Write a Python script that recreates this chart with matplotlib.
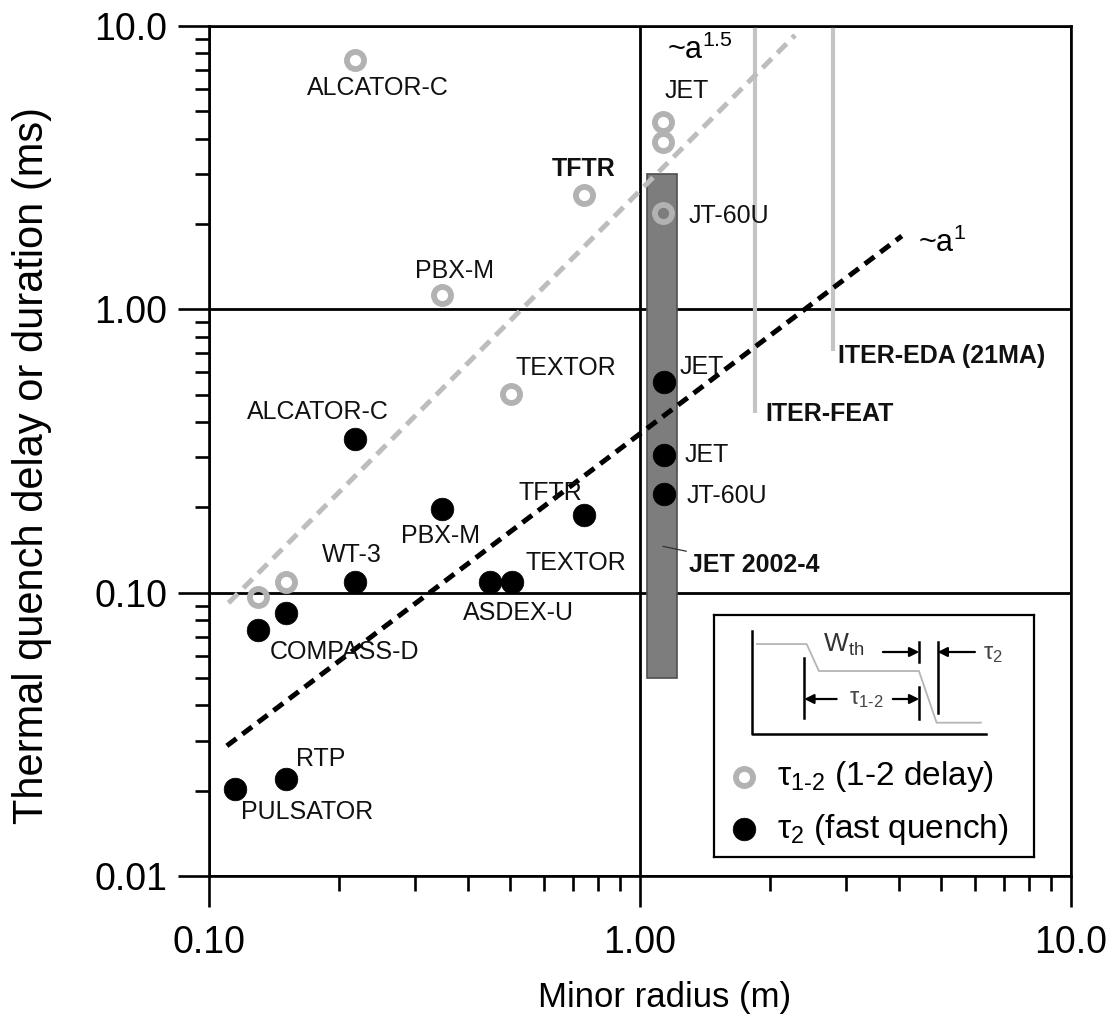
import matplotlib
matplotlib.use("Agg")
import matplotlib.pyplot as plt
from matplotlib.patches import Rectangle
from matplotlib.ticker import FixedLocator, FixedFormatter, NullFormatter

plt.rcParams["font.family"] = ["Liberation Sans", "DejaVu Sans"]
plt.rcParams["mathtext.fontset"] = "custom"
plt.rcParams["mathtext.rm"] = "Liberation Sans"
plt.rcParams["mathtext.it"] = "Liberation Sans:italic"
plt.rcParams["mathtext.bf"] = "Liberation Sans:bold"
plt.rcParams["mathtext.default"] = "regular"

# ---- data -------------------------------------------------------------
# tau_1-2 : delay between phase 1 and phase 2 of the thermal quench
delay_radius = [0.218, 0.741, 0.348, 1.13, 1.13, 1.13, 0.502, 0.151, 0.130]
delay_ms = [7.6, 2.53, 1.12, 4.57, 3.90, 2.19, 0.503, 0.109, 0.0964]

# tau_2 : duration of the fast thermal quench
quench_radius = [0.218, 0.348, 0.741, 0.218, 0.449, 0.504, 0.151, 0.130,
                 0.151, 0.115, 1.137, 1.137, 1.137]
quench_ms = [0.348, 0.198, 0.1875, 0.109, 0.109, 0.109, 0.0849, 0.0737,
             0.0220, 0.0202, 0.553, 0.306, 0.2225]

# scaling lines (end points)
fit15_radius = [0.111, 2.29]
fit15_ms = [0.092, 9.28]
fit1_radius = [0.110, 4.05]
fit1_ms = [0.0288, 1.815]

# JET 2002-4 range of fast quench durations
jet_radius_range = [1.04, 1.22]
jet_ms_range = [0.05, 3.0]

# ITER minor radii and lower end of the marker lines
iter_radius = [1.85, 2.8]
iter_ms_low = [0.43, 0.715]
iter_names = ["ITER-FEAT", "ITER-EDA (21MA)"]

x_ticks = [0.1, 1.0, 10.0]
x_tick_labels = ["0.10", "1.00", "10.0"]
y_ticks = [0.01, 0.1, 1.0, 10.0]
y_tick_labels = ["0.01", "0.10", "1.00", "10.0"]
x_minor = [0.2, 0.3, 0.4, 0.5, 0.6, 0.7, 0.8, 0.9, 2, 3, 4, 5, 6, 7, 8, 9]
y_minor = [0.02, 0.03, 0.04, 0.05, 0.06, 0.07, 0.08, 0.09,
           0.2, 0.3, 0.4, 0.5, 0.6, 0.7, 0.8, 0.9,
           2, 3, 4, 5, 6, 7, 8, 9]

# ---- styles -----------------------------------------------------------
GREY_MARK = "#b2b2b2"
GREY_LINE = "#bdbdbd"
ITER_GREY = "#c4c4c4"
BAR_GREY = "#7d7d7d"

fig = plt.figure(figsize=(11.09, 10.27), dpi=100)
ax = fig.add_axes([0.18846, 0.14703, 0.77727, 0.82765])
ax.set_xscale("log")
ax.set_yscale("log")
ax.set_xlim(0.1, 10.0)
ax.set_ylim(0.01, 10.0)

for s in ax.spines.values():
    s.set_linewidth(1.9)
    s.set_color("black")

ax.xaxis.set_major_locator(FixedLocator(x_ticks))
ax.xaxis.set_major_formatter(FixedFormatter(x_tick_labels))
ax.xaxis.set_minor_locator(FixedLocator(x_minor))
ax.xaxis.set_minor_formatter(NullFormatter())
ax.yaxis.set_major_locator(FixedLocator(y_ticks))
ax.yaxis.set_major_formatter(FixedFormatter(y_tick_labels))
ax.yaxis.set_minor_locator(FixedLocator(y_minor))
ax.yaxis.set_minor_formatter(NullFormatter())

ax.tick_params(axis="both", which="both", direction="out", width=1.9,
               top=False, right=False)
ax.tick_params(axis="x", which="major", length=22, pad=13, labelsize=27)
ax.tick_params(axis="x", which="minor", length=11)
ax.tick_params(axis="y", which="major", length=22, pad=8, labelsize=27)
ax.tick_params(axis="y", which="minor", length=10)

ax.grid(True, which="major", color="black", linewidth=2.0)
ax.set_axisbelow(True)

ax.set_xlabel("Minor radius (m)", fontsize=25)
ax.xaxis.set_label_coords(0.529, -0.124)
ax.set_ylabel("Thermal quench delay or duration (ms)", fontsize=30)
ax.yaxis.set_label_coords(-0.182, 0.483)

# JET 2002-4 band
ax.add_patch(Rectangle((jet_radius_range[0], jet_ms_range[0]),
                       jet_radius_range[1] - jet_radius_range[0],
                       jet_ms_range[1] - jet_ms_range[0],
                       facecolor=BAR_GREY, edgecolor="#4f4f4f",
                       linewidth=1.2, zorder=2))

# ITER minor radius markers
for r, lo in zip(iter_radius, iter_ms_low):
    ax.plot([r, r], [lo, 10.0], color=ITER_GREY, linewidth=3.0,
            solid_capstyle="butt", zorder=2.5)

# scaling lines
ax.plot(fit15_radius, fit15_ms, color=GREY_LINE, linewidth=3.6,
        dashes=(2.6, 1.6), zorder=3)
ax.plot(fit1_radius, fit1_ms, color="black", linewidth=3.6,
        dashes=(2.4, 1.5), zorder=3)

# data points
ax.plot(delay_radius, delay_ms, linestyle="none", marker="o",
        markerfacecolor="none", markeredgecolor=GREY_MARK,
        markersize=12.3, markeredgewidth=4.2, zorder=4)
ax.plot(quench_radius, quench_ms, linestyle="none", marker="o",
        markerfacecolor="black", markeredgecolor="black",
        markersize=16.3, markeredgewidth=0.5, zorder=4)

# device labels
FS = 18
def label(x, y, s, ha="center", weight="normal"):
    ax.text(x, y, s, ha=ha, va="center", fontsize=FS, fontweight=weight,
            color="#111111", zorder=5)

label(0.2467, 6.03, "ALCATOR-C")
label(0.741, 3.14, "TFTR", weight="bold")
label(0.372, 1.368, "PBX-M")
label(1.143, 5.88, "JET", ha="left")
label(1.293, 2.14, "JT-60U", ha="left")
label(0.673, 0.621, "TEXTOR")
label(0.179, 0.434, "ALCATOR-C")
label(0.618, 0.2244, "TFTR")
label(0.3436, 0.158, "PBX-M")
label(0.2147, 0.1354, "WT-3")
label(0.710, 0.1269, "TEXTOR")
label(0.521, 0.0851, "ASDEX-U")
label(0.2057, 0.0619, "COMPASS-D")
label(0.1819, 0.0259, "RTP")
label(0.1688, 0.01683, "PULSATOR")
label(1.238, 0.626, "JET", ha="left")
label(1.272, 0.3056, "JET", ha="left")
label(1.285, 0.219, "JT-60U", ha="left")
label(1.95, 0.427, iter_names[0], ha="left", weight="bold")
label(2.88, 0.685, iter_names[1], ha="left", weight="bold")

ax.annotate("JET 2002-4", xy=(1.13, 0.1457), xytext=(1.30, 0.1248),
            ha="left", va="center", fontsize=FS, fontweight="bold",
            color="#111111", zorder=5,
            arrowprops=dict(arrowstyle="-", color="#333333", linewidth=0.9,
                            shrinkA=0, shrinkB=0))

ax.text(1.155, 8.21, "~a$^{1.5}$", ha="left", va="center", fontsize=22,
        zorder=5)
ax.text(4.42, 1.705, "~a$^{1}$", ha="left", va="center", fontsize=22,
        zorder=5)

# ---- legend box with the quench schematic ------------------------------
ins = ax.inset_axes([0.5858, 0.02235, 0.3712, 0.2847], zorder=6)
ins.set_xlim(0, 1)
ins.set_ylim(0, 1)
ins.set_xticks([])
ins.set_yticks([])
ins.set_facecolor("white")
for s in ins.spines.values():
    s.set_linewidth(1.6)

# schematic axes
ins.plot([0.1178, 0.1178, 0.849], [0.934, 0.508, 0.508], color="black",
         linewidth=1.8)
# stored energy trace
ins.plot([0.134, 0.2897, 0.328, 0.6406, 0.6959, 0.834],
         [0.880, 0.880, 0.7686, 0.7686, 0.555, 0.555],
         color="#b5b5b5", linewidth=1.3)
# phase markers
ins.plot([0.2822, 0.2822], [0.8223, 0.5744], color="black", linewidth=1.8)
ins.plot([0.6416, 0.6416], [0.8897, 0.8058], color="black", linewidth=1.8)
ins.plot([0.6416, 0.6416], [0.7025, 0.5702], color="black", linewidth=1.8)
ins.plot([0.699, 0.699], [0.8897, 0.595], color="black", linewidth=1.8)

arrow = dict(arrowstyle="-|>", color="black", linewidth=1.6,
             mutation_scale=14, shrinkA=0, shrinkB=0)
ins.annotate("", xy=(0.6416, 0.8471), xytext=(0.528, 0.8471),
             arrowprops=arrow)
ins.annotate("", xy=(0.699, 0.8471), xytext=(0.8156, 0.8471),
             arrowprops=arrow)
ins.annotate("", xy=(0.2822, 0.6529), xytext=(0.3834, 0.6529),
             arrowprops=arrow)
ins.annotate("", xy=(0.6416, 0.6529), xytext=(0.559, 0.6529),
             arrowprops=arrow)

ins.text(0.3406, 0.876, "W$_{th}$", ha="left", va="center", fontsize=19,
         color="#333333")
ins.text(0.8406, 0.839, "τ$_{2}$", ha="left", va="center", fontsize=17,
         color="#444444")
ins.text(0.477, 0.653, "τ$_{1\\text{-}2}$", ha="center", va="center",
         fontsize=17, color="#444444")

ins.plot([0.09375], [0.3318], linestyle="none", marker="o",
         markerfacecolor="none", markeredgecolor=GREY_MARK,
         markersize=12.3, markeredgewidth=4.2)
ins.plot([0.09375], [0.114], linestyle="none", marker="o",
         markerfacecolor="black", markeredgecolor="black",
         markersize=16.3, markeredgewidth=0.5)
ins.text(0.196, 0.3318, "τ$_{1\\text{-}2}$ (1-2 delay)", ha="left",
         va="center", fontsize=24)
ins.text(0.196, 0.114, "τ$_{2}$ (fast quench)", ha="left", va="center",
         fontsize=24)

fig.savefig("out.png", dpi=100)
